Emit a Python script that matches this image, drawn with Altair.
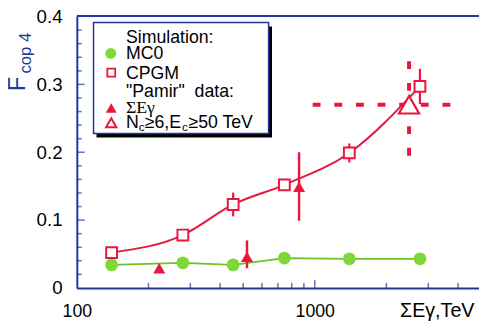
import altair as alt
import pandas as pd

# ---------------- data ----------------
e_sim = [140, 279, 454, 745, 1397, 2767]
mc0 = [0.034, 0.037, 0.034, 0.044, 0.043, 0.043]
cpgm = [0.052, 0.078, 0.123, 0.152, 0.199, 0.297]
cpgm_err = [0.0, 0.0, 0.0175, 0.0, 0.014, 0.026]

e_pamir = [222, 519, 859]
pamir = [0.029, 0.046, 0.149]
pamir_lo = [0.029, 0.029, 0.099]
pamir_hi = [0.029, 0.070, 0.200]

e_nc = [2490]
nc = [0.27]
cross_x = [980, 4050]
cross_y = [0.195, 0.345]

y_labels = [0, 0.1, 0.2, 0.3, 0.4]
y_major = [0.1, 0.2, 0.3]
y_minor = [0.02, 0.04, 0.06, 0.08, 0.12, 0.14, 0.16, 0.18,
           0.22, 0.24, 0.26, 0.28, 0.32, 0.34, 0.36, 0.38]
x_labels = [100, 1000]
x_major = [1000]
x_minor = [200, 300, 400, 500, 600, 700, 800, 900, 2000, 3000, 4000]

RED = "#e8173e"
GREEN = "#7fd83a"
GREEN_LINE = "#6cc424"
BLUE = "#22379a"
FONT = "Liberation Sans"

W, H = 409, 276

sim = pd.DataFrame({"e": e_sim, "mc0": mc0, "cpgm": cpgm,
                    "lo": [c - s for c, s in zip(cpgm, cpgm_err)],
                    "hi": [c + s for c, s in zip(cpgm, cpgm_err)]})
pam = pd.DataFrame({"e": e_pamir, "v": pamir, "lo": pamir_lo, "hi": pamir_hi})
ncd = pd.DataFrame({"e": e_nc, "v": nc})
hcross = pd.DataFrame({"x1": [cross_x[0]], "x2": [cross_x[1]], "y": nc})
vcross = pd.DataFrame({"x": e_nc, "y1": [cross_y[0]], "y2": [cross_y[1]]})
ymaj = pd.DataFrame({"v": y_major})
ymin = pd.DataFrame({"v": y_minor})
xmaj = pd.DataFrame({"v": x_major})
xmin = pd.DataFrame({"v": x_minor})
one = pd.DataFrame({"a": [0]})

xscale = alt.Scale(type="log", domain=[100, 4900])
yscale = alt.Scale(domain=[0, 0.4])

x_axis = alt.Axis(values=x_labels, format="d", grid=False, ticks=False, tickSize=0,
                  domainColor=BLUE, domainWidth=2, labelPadding=15, labelFontSize=18,
                  labelFont=FONT, labelColor="black", labelFlush=False,
                  title="ΣEγ,TeV", titleFont=FONT, titleFontSize=20,
                  titleFontWeight="normal", titleColor="black",
                  titleX=366, titleY=29, titleAlign="center", titleBaseline="alphabetic")
y_axis = alt.Axis(values=y_labels, grid=False, ticks=False, tickSize=0,
                  labelExpr="datum.value == 0 ? '0' : format(datum.value, '.1f')",
                  domainColor=BLUE, domainWidth=2, labelPadding=15, labelFontSize=19,
                  labelFont=FONT, labelColor="black", title=None)


def X(f):
    return alt.X(f, type="quantitative", scale=xscale, axis=x_axis)


def Y(f):
    return alt.Y(f, type="quantitative", scale=yscale, axis=y_axis)


mc0_line = alt.Chart(sim).mark_line(color=GREEN_LINE, strokeWidth=1.8).encode(
    x=X("e"), y=Y("mc0"))
mc0_pts = alt.Chart(sim).mark_point(shape="circle", filled=True, size=169,
                                    color=GREEN, opacity=1).encode(x=X("e"), y=Y("mc0"))

cpgm_line = alt.Chart(sim).mark_line(color=RED, strokeWidth=2,
                                     interpolate="monotone").encode(x=X("e"), y=Y("cpgm"))
cpgm_err_r = alt.Chart(sim).mark_rule(color=RED, strokeWidth=2.2).encode(
    x=X("e"), y=Y("lo"), y2="hi")
cpgm_pts = alt.Chart(sim).mark_point(shape="square", size=121, filled=True, fill="white",
                                     stroke=RED, strokeWidth=2, opacity=1).encode(
    x=X("e"), y=Y("cpgm"))

pam_err = alt.Chart(pam).mark_rule(color=RED, strokeWidth=2.5).encode(
    x=X("e"), y=Y("lo"), y2="hi")
pam_pts = alt.Chart(pam).mark_point(shape="triangle-up", size=150, filled=True,
                                    color=RED, opacity=1).encode(x=X("e"), y=Y("v"))

hc = alt.Chart(hcross).mark_rule(color=RED, strokeWidth=4, strokeDash=[8, 14]).encode(
    x=X("x1"), x2="x2", y=Y("y"))
vc = alt.Chart(vcross).mark_rule(color=RED, strokeWidth=4, strokeDash=[8, 14]).encode(
    x=X("x"), y=Y("y1"), y2="y2")
nc_pt = alt.Chart(ncd).mark_point(shape="triangle-up", size=420, filled=True, fill="white",
                                  stroke=RED, strokeWidth=2.2, opacity=1).encode(
    x=X("e"), y=Y("v"))

# inward ticks
yt_maj = alt.Chart(ymaj).mark_tick(orient="horizontal", size=8, thickness=1.5,
                                   color=BLUE).encode(y=Y("v"), x=alt.value(4))
yt_min = alt.Chart(ymin).mark_tick(orient="horizontal", size=5, thickness=1.5,
                                   color=BLUE).encode(y=Y("v"), x=alt.value(2.5))
xt_maj = alt.Chart(xmaj).mark_tick(orient="vertical", size=8, thickness=1.5,
                                   color=BLUE).encode(x=X("v"), y=alt.value(H - 4))
xt_min = alt.Chart(xmin).mark_tick(orient="vertical", size=5, thickness=1.5,
                                   color=BLUE).encode(x=X("v"), y=alt.value(H - 2.5))
top_rule = alt.Chart(one).mark_rule(color=BLUE, strokeWidth=2).encode(y=alt.value(-0.5))

# y title
ytitle_F = alt.Chart(one).mark_text(text="F", angle=270, align="left", baseline="alphabetic",
                                    font=FONT, fontSize=24, color=BLUE).encode(
    x=alt.value(-53), y=alt.value(76))
ytitle_sub = alt.Chart(one).mark_text(text="cop 4", angle=270, align="left",
                                      baseline="alphabetic", font=FONT, fontSize=17,
                                      color=BLUE).encode(x=alt.value(-47), y=alt.value(58))

# legend
shadow = alt.Chart(one).mark_rect(color="black").encode(
    x=alt.value(20), x2=alt.value(198.5), y=alt.value(10), y2=alt.value(123))
box = alt.Chart(one).mark_rect(fill="white", stroke=BLUE, strokeWidth=1.5).encode(
    x=alt.value(17), x2=alt.value(195), y=alt.value(6), y2=alt.value(119))


def ltext(txt, x, y, size=18, font=FONT):
    return alt.Chart(one).mark_text(text=txt, align="left", baseline="alphabetic",
                                    font=font, fontSize=size, color="black").encode(
        x=alt.value(x), y=alt.value(y))


leg_items = [
    ltext("Simulation:", 50, 27),
    ltext("MC0", 50, 43.5),
    ltext("CPGM", 50, 63),
    ltext("\"Pamir\"\u00a0 data:", 50, 82),
    ltext("ΣEγ", 50, 98, font="Liberation Serif"),
    ltext("N", 50, 113.5),
    ltext("c", 63, 116.5, size=12),
    ltext("≥6,E", 69, 113.5),
    ltext("c", 107, 116.5, size=12),
    ltext("≥50 TeV", 113.5, 113.5),
    alt.Chart(one).mark_point(shape="circle", filled=True, size=121, color=GREEN,
                              opacity=1).encode(x=alt.value(34.5), y=alt.value(37.5)),
    alt.Chart(one).mark_point(shape="square", filled=True, fill="white", size=64,
                              stroke=RED, strokeWidth=1.8, opacity=1).encode(
        x=alt.value(35), y=alt.value(57)),
    alt.Chart(one).mark_point(shape="triangle-up", filled=True, size=121, color=RED,
                              opacity=1).encode(x=alt.value(35), y=alt.value(93)),
    alt.Chart(one).mark_point(shape="triangle-up", filled=True, fill="white", size=110,
                              stroke=RED, strokeWidth=2, opacity=1).encode(
        x=alt.value(35), y=alt.value(108)),
]

chart = alt.layer(
    mc0_line, top_rule, yt_maj, yt_min, xt_maj, xt_min,
    mc0_pts, cpgm_line, cpgm_err_r, pam_err, hc, vc, cpgm_pts, pam_pts, nc_pt,
    ytitle_F, ytitle_sub, shadow, box, *leg_items
).properties(
    width=W, height=H,
    padding={"left": 70, "top": 6, "right": 0, "bottom": 36},
    autosize=alt.AutoSizeParams(type="none"),
).configure_view(stroke=None)

chart.save("out.html", embed_options={"renderer": "svg", "actions": False})
